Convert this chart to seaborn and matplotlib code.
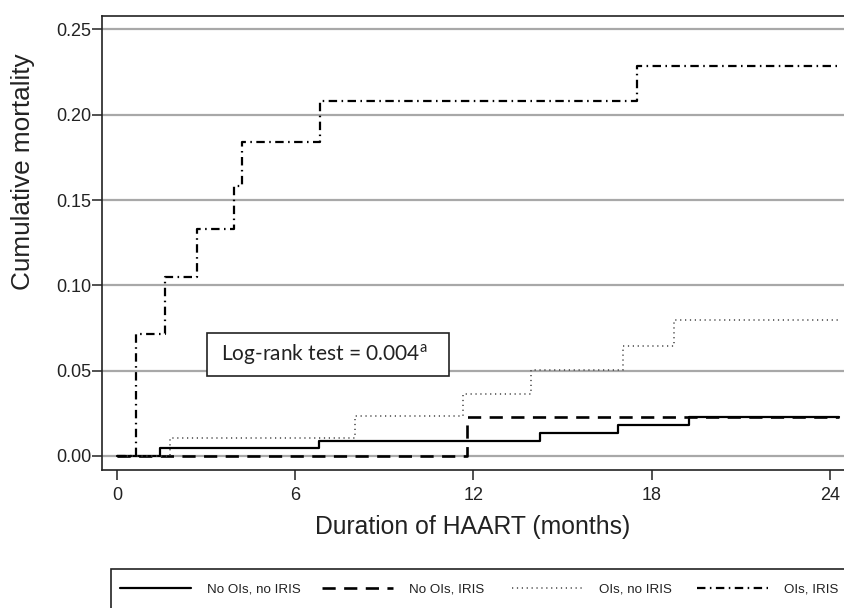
import matplotlib
matplotlib.use("Agg")
import matplotlib.pyplot as plt
import seaborn as sns
import pandas as pd
from matplotlib.patches import Rectangle

sns.set_style("white")
plt.rcParams['font.family'] = ['Liberation Sans', 'DejaVu Sans']
plt.rcParams['mathtext.fontset'] = 'custom'
plt.rcParams['mathtext.rm'] = 'Lato'

# Data (months, cumulative mortality) – step functions
t_no_no = [0, 1.45, 6.8, 14.24, 16.88, 19.25, 24.3]
y_no_no = [0.0, 0.0045, 0.009, 0.0137, 0.0184, 0.023, 0.023]

t_no_iris = [0, 11.8, 24.3]
y_no_iris = [0.0, 0.023, 0.023]

t_ois_no = [0, 1.78, 8.0, 11.65, 13.93, 17.03, 18.75, 24.3]
y_ois_no = [0.0, 0.0105, 0.0234, 0.0363, 0.0504, 0.0647, 0.0797, 0.0797]

t_ois_iris = [0, 0.63, 1.62, 2.69, 3.95, 4.22, 6.85, 17.5, 24.3]
y_ois_iris = [0.0, 0.0713, 0.1047, 0.133, 0.158, 0.184, 0.208, 0.2286, 0.2286]

labels = ["No OIs, no IRIS", "No OIs, IRIS", "OIs, no IRIS", "OIs, IRIS"]
xticks = [0, 6, 12, 18, 24]
yticks = [0.00, 0.05, 0.10, 0.15, 0.20, 0.25]

W, H = 844, 608
fig = plt.figure(figsize=(W / 100, H / 100), dpi=100)
ax = fig.add_axes([102 / W, (H - 470) / H, (860 - 102) / W, (470 - 16) / H])

series = [
    (t_no_no, y_no_no, dict(linestyle='-', linewidth=1.6, color='black')),
    (t_no_iris, y_no_iris, dict(linestyle=(0, (5.0, 3.2)), linewidth=1.9, color='black')),
    (t_ois_no, y_ois_no, dict(linestyle=(0, (0.8, 2.4)), linewidth=1.1, color='#444444')),
    (t_ois_iris, y_ois_iris, dict(linestyle=(0, (3.8, 2.0, 0.7, 2.0)), linewidth=1.6, color='black')),
]
for (t, y, st), lab in zip(series, labels):
    df = pd.DataFrame({"t": t, "y": y})
    sns.lineplot(data=df, x="t", y="y", ax=ax, drawstyle='steps-post',
                 label=lab, zorder=3, **st)
h, l = ax.get_legend_handles_labels()
ax.get_legend().remove()

for yv in yticks:
    ax.axhline(yv, color='#a8a8a8', linewidth=1.6, zorder=1)

ax.set_xlim(-15 / 29.7, (860 - 117) / 29.7)
ax.set_ylim((456 - 470) / 1706, (456 - 16) / 1706)
ax.set_xticks(xticks)
ax.set_xticklabels([str(v) for v in xticks])
ax.set_yticks(yticks)
ax.set_yticklabels([f"{v:.2f}" for v in yticks])
ax.tick_params(axis='both', direction='out', length=7, width=1.1, color='#222222',
               labelsize=13, labelcolor='#222222', bottom=True, left=True)
ax.tick_params(axis='y', pad=0.8)
ax.tick_params(axis='x', pad=5)
for s in ['left', 'bottom', 'top']:
    ax.spines[s].set_color('#222222')
    ax.spines[s].set_linewidth(1.2)
ax.spines['right'].set_visible(False)

ax.set_xlabel("Duration of HAART (months)", fontsize=17.8, color='#222222')
ax.xaxis.set_label_coords((473 - 102) / (860 - 102), -(527 - 470) / 454)
ax.xaxis.label.set_va('center')
ax.set_ylabel("Cumulative mortality", fontsize=18.8, color='#222222')
ax.yaxis.set_label_coords(-(102 - 23) / (860 - 102), (470 - 172) / 454)
ax.yaxis.label.set_va('center')

# Log-rank text box
ax.add_patch(Rectangle((3.02, 0.047), 11.18 - 3.02, 0.0723 - 0.047, facecolor='white',
                       edgecolor='#222222', linewidth=1.2, zorder=4))
ax.text(6.97, 0.0597, r"Log-rank test = 0.004$^{\mathrm{a}}$", ha='center', va='center',
        fontsize=15, family='Lato', color='#222222', zorder=5)

# Legend frame (extends past the figure edge) and legend entries
fig.patches.append(Rectangle((111 / W, -0.05), (870 - 111) / W, 0.05 + (H - 569) / H,
                             transform=fig.transFigure, facecolor='white',
                             edgecolor='#222222', linewidth=1.2, zorder=0))
entry_x = [120, 322, 512, 697]
for hh, ll, xs in zip(h, l, entry_x):
    leg = fig.legend([hh], [ll], loc='center left', bbox_to_anchor=(xs / W, 1 - 589 / H),
                     fontsize=9.6, handlelength=5.3, handletextpad=1.2,
                     borderpad=0, borderaxespad=0, frameon=False)
    for t in leg.get_texts():
        t.set_color('#222222')

fig.savefig("out.png", dpi=100)
